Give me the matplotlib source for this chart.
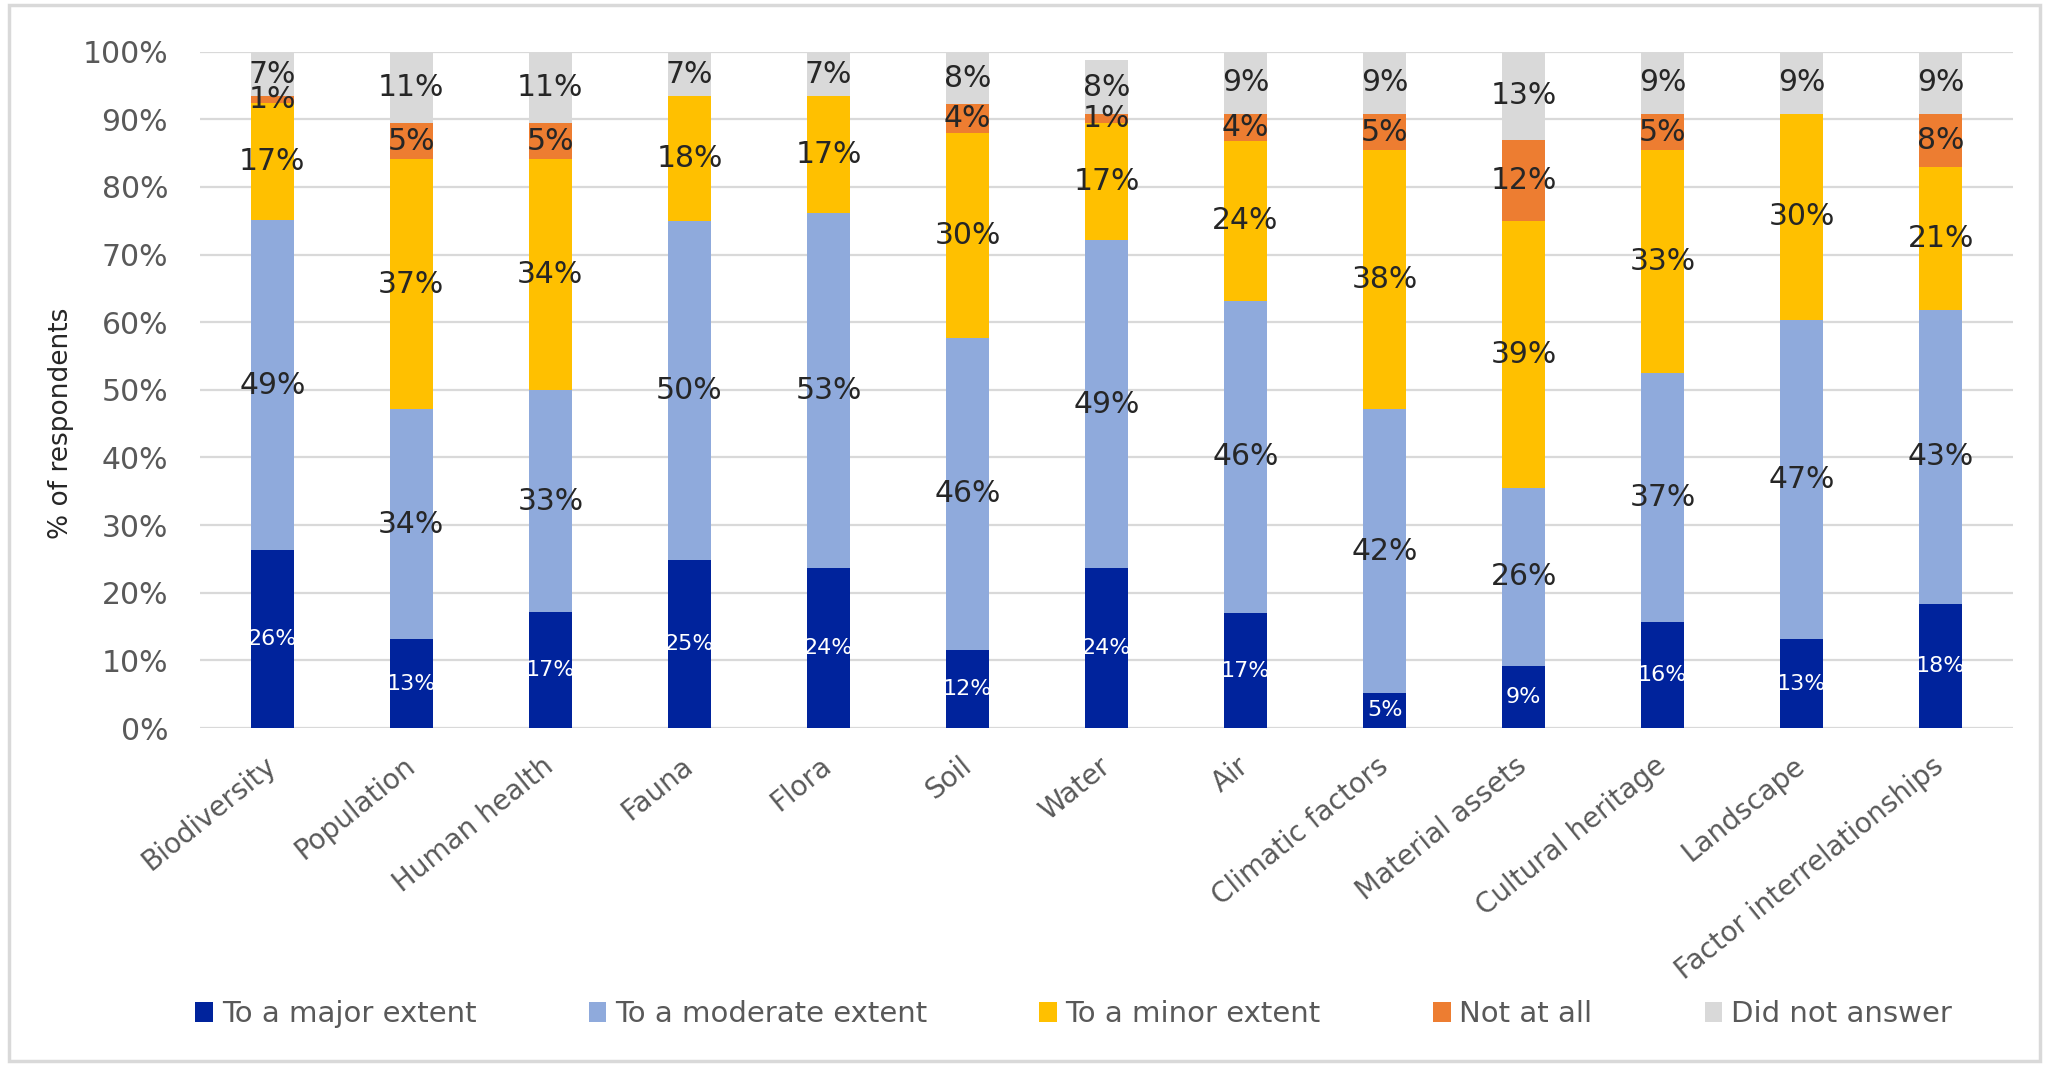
import numpy as np
import matplotlib
matplotlib.use('Agg')
import matplotlib.pyplot as plt
from matplotlib.patches import Rectangle

# % of respondents per factor
factors = ['Biodiversity', 'Population', 'Human health', 'Fauna', 'Flora', 'Soil', 'Water',
           'Air', 'Climatic factors', 'Material assets', 'Cultural heritage', 'Landscape',
           'Factor interrelationships']
major = [26.3, 13.1, 17.1, 24.9, 23.6, 11.6, 23.6, 17.0, 5.2, 9.2, 15.6, 13.1, 18.4]
moderate = [48.8, 34.0, 32.9, 50.1, 52.6, 46.1, 48.6, 46.2, 41.9, 26.3, 36.9, 47.3, 43.4]
minor = [17.3, 37.0, 34.1, 18.4, 17.2, 30.3, 17.2, 23.6, 38.3, 39.4, 32.9, 30.4, 21.2]
not_at_all = [1.0, 5.3, 5.3, 0.0, 0.0, 4.2, 1.4, 4.0, 5.4, 12.0, 5.4, 0.0, 7.8]
no_answer = [6.6, 10.6, 10.6, 6.6, 6.6, 7.8, 7.9, 9.2, 9.2, 13.1, 9.2, 9.2, 9.2]

series_names = ['To a major extent', 'To a moderate extent', 'To a minor extent',
                'Not at all', 'Did not answer']
colors = ['#00239C', '#8FAADC', '#FFC000', '#ED7D31', '#D9D9D9']
label_colors = ['white', '#262626', '#262626', '#262626', '#262626']

plt.rcParams['font.family'] = 'DejaVu Sans'

fig = plt.figure(figsize=(20.49, 10.66), dpi=100)
ax = fig.add_axes([200 / 2049, 1 - 728 / 1066, 1813 / 2049, 676.3 / 1066])

x = np.arange(len(factors))
bottom = np.zeros(len(factors))
for vals, name, col, lcol in zip([major, moderate, minor, not_at_all, no_answer],
                                 series_names, colors, label_colors):
    vals = np.array(vals)
    ax.bar(x, vals, 0.31, bottom=bottom, color=col, label=name, zorder=2)
    for xi, b, v in zip(x, bottom, vals):
        if v < 0.5:
            continue
        fs = 16 if lcol == 'white' else 21.5
        ax.text(xi, b + v / 2, '%d%%' % round(v), ha='center', va='center',
                color=lcol, fontsize=fs, zorder=3)
    bottom += vals

ax.set_xlim(-0.52, 12.52)
ax.set_ylim(0, 100)
ax.set_yticks(np.arange(0, 101, 10))
ax.set_yticklabels(['%d%%' % t for t in range(0, 101, 10)])
ax.yaxis.grid(True, color='#D9D9D9', lw=1.6, zorder=0)
ax.set_axisbelow(True)
for s in ax.spines.values():
    s.set_visible(False)
ax.tick_params(axis='both', length=0, colors='#595959', labelsize=20)
ax.tick_params(axis='y', pad=23, labelsize=21.5)

ax.set_xticks(x)
ax.set_xticklabels(factors, rotation=39, ha='right', va='center', rotation_mode='anchor')
ax.tick_params(axis='x', pad=25)

ax.set_ylabel('% of respondents', fontsize=19, color='#262626')
ax.yaxis.set_label_coords(-126 / 1813, 0.45)

handles, labels = ax.get_legend_handles_labels()
fig.legend(handles, labels, loc='center', bbox_to_anchor=(0.524, 1 - 1014 / 1066), ncol=5,
           frameon=False, fontsize=21, labelcolor='#595959', handlelength=0.6,
           handleheight=0.7, handletextpad=0.3, columnspacing=3.85)

fig.patches.append(Rectangle((9 / 2049, 5 / 1066), 2031 / 2049, 1056 / 1066,
                             transform=fig.transFigure, fill=False,
                             ec='#D9D9D9', lw=2.5))

fig.savefig('out.png', dpi=100)
